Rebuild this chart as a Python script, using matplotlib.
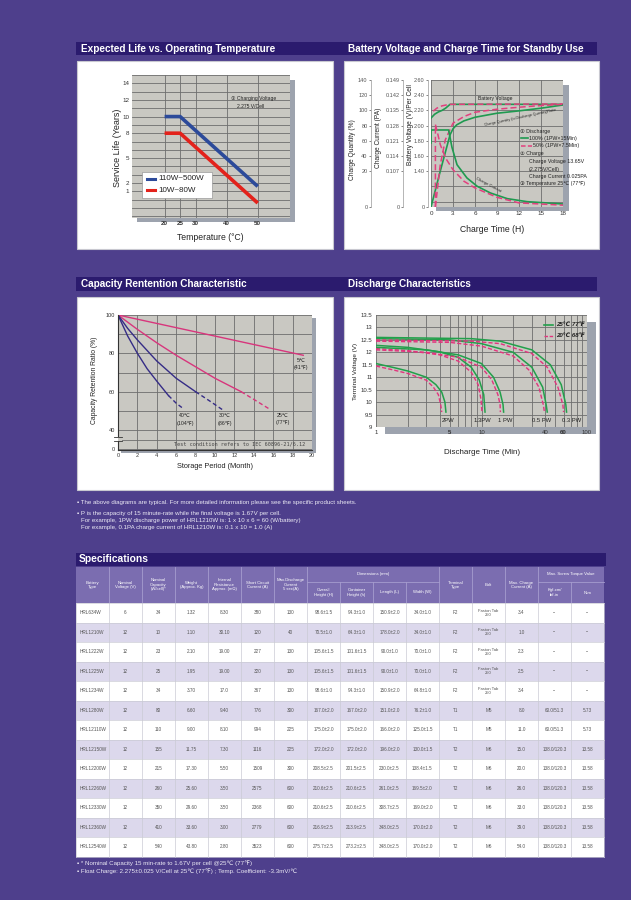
import numpy as np
import matplotlib
matplotlib.use('Agg')
import matplotlib.pyplot as plt
from matplotlib.patches import Rectangle
from matplotlib.lines import Line2D
from matplotlib.ticker import FixedLocator, NullFormatter

plt.rcParams['font.family'] = ['Liberation Sans', 'DejaVu Sans', 'Noto Sans CJK SC']

# ---------------- data ----------------
# Chart 1: expected life
temp_pts = [20, 25, 50]
life_110_500 = [10, 10, 1.6]
life_10_80 = [8, 8, -0.4]
temp_ticks = [20, 25, 30, 40, 50]
life_ticks = [14, 12, 10, 8, 5, 2, 1]

# Chart 2: charge characteristics
hours_v100 = [0, 0.5, 1, 1.5, 2, 2.6, 18]
volt_100 = [2.10, 2.15, 2.18, 2.20, 2.23, 2.28, 2.28]
hours_v50 = [0.3, 0.8, 1.5, 2.5, 18]
volt_50 = [2.19, 2.23, 2.26, 2.28, 2.285]
hours_q100 = [0, 1.26, 2.6, 3, 3.5, 4.5, 6, 9, 12, 15, 18]
qty_100 = [0, 20, 68, 75.8, 81, 86.3, 91, 96.3, 99.4, 102.9, 107.2]
hours_q50 = [0.6, 1.15, 1.27, 1.95, 3, 4.5, 6, 9, 12, 15, 18]
qty_50 = [0, 20, 28.6, 61.4, 83.2, 92, 97.6, 101.6, 104.2, 106.4, 108.1]
hours_c100 = [0, 0, 2.4, 2.86, 3.55, 4.9, 6.3, 8.1, 10.4, 13.1, 18]
curr_100 = [0.120, 0.126, 0.126, 0.118, 0.110, 0.087, 0.062, 0.042, 0.025, 0.016, 0.009]
hours_c50 = [0.6, 0.6, 0.9, 1.27, 2, 3, 4.5, 6, 9, 12, 18]
curr_50 = [0, 0.1285, 0.1245, 0.1192, 0.113, 0.1077, 0.077, 0.057, 0.029, 0.0123, 0.0055]
hour_ticks = [0, 3, 6, 9, 12, 15, 18]
volt_ticks = [2.60, 2.40, 2.20, 2.00, 1.80, 1.60, 1.40]
curr_ticks = [0.149, 0.142, 0.135, 0.128, 0.121, 0.114, 0.107, 0]
qty_ticks = [140, 120, 100, 80, 60, 40, 20, 0]

# Chart 3: capacity retention
m5 = [0, 19.1]
r5 = [100, 79]
m25 = [0, 2, 4, 6, 8, 10, 12.7]
r25 = [100, 92.5, 85.5, 79, 73, 67, 60]
m25d = [12.7, 14, 15.6]
r25d = [60, 56, 51]
m30 = [0, 1, 2, 3, 4, 5, 6, 7, 8]
r30 = [100, 93, 87, 81.5, 76, 71.5, 67, 63.5, 60]
m30d = [8, 9.5, 10.8]
r30d = [60, 55, 50.5]
m40 = [0, 1, 2, 3, 4, 5.2]
r40 = [100, 89, 80, 72, 65.5, 58]
m40d = [5.2, 6, 6.7]
r40d = [58, 54, 51.3]
month_ticks = list(range(0, 21, 2))
ret_ticks = [100, 80, 60, 40]

# Chart 4: discharge characteristics (min, V) ; g = 25C, p = 20C
t2g = [1, 1.5, 2, 3, 3.7, 4.2, 4.5, 4.6]
v2g = [11.55, 11.38, 11.25, 11.0, 10.7, 10.4, 10.0, 9.6]
t2p = [1, 1.5, 2, 3, 3.5, 3.9, 4.1, 4.2]
v2p = [11.45, 11.28, 11.15, 10.88, 10.6, 10.3, 9.9, 9.6]
t13g = [1, 2, 4, 6, 8, 9.5, 10.5, 10.8]
v13g = [12.28, 12.2, 12.02, 11.8, 11.4, 10.9, 10.3, 9.6]
t13p = [1, 2, 4, 6, 8, 9.3, 9.9, 10.1]
v13p = [12.15, 12.07, 11.9, 11.65, 11.2, 10.7, 10.1, 9.6]
t1g = [1, 3, 6, 10, 13, 15, 16, 16.2]
v1g = [12.2, 12.1, 11.9, 11.55, 11.0, 10.4, 9.9, 9.6]
t1p = [1, 3, 6, 10, 12.5, 14.3, 15, 15.1]
v1p = [12.1, 12.0, 11.8, 11.4, 10.9, 10.3, 9.9, 9.6]
t05g = [1, 5, 10, 20, 30, 38, 41, 42]
v05g = [12.55, 12.5, 12.35, 12.0, 11.4, 10.6, 9.9, 9.6]
t05p = [1, 5, 10, 20, 28, 35, 38.5, 39.5]
v05p = [12.45, 12.4, 12.25, 11.85, 11.3, 10.6, 9.9, 9.6]
t03g = [1, 8, 15, 30, 45, 57, 63, 64]
v03g = [12.6, 12.55, 12.45, 12.1, 11.5, 10.7, 9.9, 9.6]
t03p = [1, 8, 15, 30, 42, 53, 59, 60]
v03p = [12.5, 12.45, 12.35, 11.95, 11.4, 10.6, 9.9, 9.6]
time_ticks = [1, 5, 10, 40, 60, 100]
tv_ticks = [13.5, 13, 12.5, 12, 11.5, 11, 10.5, 10, 9.5, 9]

# Specifications table
battery_types = ['HRL634W', 'HRL1210W', 'HRL1222W', 'HRL1225W', 'HRL1234W', 'HRL1280W', 'HRL12110W',
                 'HRL12150W', 'HRL12200W', 'HRL12260W', 'HRL12330W', 'HRL12360W', 'HRL12540W']
nominal_voltage = ['6'] + ['12'] * 12
nominal_capacity = ['34', '10', '23', '25', '34', '80', '110', '155', '215', '260', '350', '410', '540']
weight = ['1.32', '1.10', '2.10', '1.95', '3.70', '6.60', '9.00', '11.75', '17.30', '25.60', '29.60', '33.60', '43.80']
internal_res = ['8.30', '30.10', '19.00', '19.00', '17.0', '9.40', '8.10', '7.30', '5.50', '3.50', '3.50', '3.00', '2.80']
short_circuit = ['380', '120', '227', '320', '367', '776', '994', '1116', '1509', '2575', '2368', '2779', '3523']
max_discharge = ['130', '40', '130', '130', '130', '300', '225', '225', '300', '600', '600', '600', '600']
overall_h = ['98.6±1.5', '70.5±1.0', '105.6±1.5', '105.6±1.5', '98.6±1.0', '167.0±2.0', '175.0±2.0',
             '172.0±2.0', '208.5±2.5', '210.6±2.5', '210.6±2.5', '216.9±2.5', '275.7±2.5']
container_h = ['94.3±1.0', '64.3±1.0', '101.6±1.5', '101.6±1.5', '94.3±1.0', '167.0±2.0', '175.0±2.0',
               '172.0±2.0', '201.5±2.5', '210.6±2.5', '210.6±2.5', '213.9±2.5', '273.2±2.5']
length = ['150.9±2.0', '178.0±2.0', '90.0±1.0', '90.0±1.0', '150.9±2.0', '151.0±2.0', '166.0±2.0',
          '196.0±2.0', '230.0±2.5', '261.0±2.5', '308.7±2.5', '348.0±2.5', '348.0±2.5']
width = ['34.0±1.0', '34.0±1.0', '70.0±1.0', '70.0±1.0', '64.8±1.0', '76.2±1.0', '125.0±1.5',
         '130.0±1.5', '138.4±1.5', '169.5±2.0', '169.0±2.0', '170.0±2.0', '170.0±2.0']
terminal = ['F2'] * 5 + ['T1', 'T1'] + ['T2'] * 6
bolt = ['Faston Tab\n250'] * 5 + ['M5', 'M5'] + ['M6'] * 6
max_charge = ['3.4', '1.0', '2.3', '2.5', '3.4', '8.0', '11.0', '15.0', '20.0', '26.0', '33.0', '39.0', '54.0']
torque_kgf = ['--'] * 5 + ['60.0/51.3'] * 2 + ['138.0/120.3'] * 6
torque_nm = ['--'] * 5 + ['5.73'] * 2 + ['13.58'] * 6
columns = [battery_types, nominal_voltage, nominal_capacity, weight, internal_res, short_circuit,
           max_discharge, overall_h, container_h, length, width, terminal, bolt, max_charge,
           torque_kgf, torque_nm]
col_headers = ['Battery\nType', 'Nominal\nVoltage (V)', 'Nominal\nCapacity\n(W/cell)*', 'Weight\n(Approx. Kg)',
               'Internal\nResistance\nApprox. (mΩ)', 'Short Circuit\nCurrent (A)', 'Max.Discharge\nCurrent\n5 sec(A)',
               'Overall\nHeight (H)', 'Container\nHeight (h)', 'Length (L)', 'Width (W)', 'Terminal\nType',
               'Bolt', 'Max. Charge\nCurrent (A)', 'Kgf-cm/\nlbf-in', 'N-m']

# ---------------- page ----------------
W, H = 631, 900
BG = '#4E3F8C'
BAR = '#2B1B6E'
PLOT_BG = '#C9C8C2'
GRID = '#6E6E6E'
SHADOW = '#9DA3AE'
fig = plt.figure(figsize=(W / 100, H / 100), dpi=100)
fig.patch.set_facecolor(BG)
bg = fig.add_axes([0, 0, 1, 1], zorder=0)
bg.set_xlim(0, W)
bg.set_ylim(H, 0)
bg.axis('off')


def fr(x0, y0, x1, y1):
    return [x0 / W, 1 - y1 / H, (x1 - x0) / W, (y1 - y0) / H]


def ft(x, y, s, **kw):
    return fig.text(x / W, 1 - y / H, s, **kw)


def rect(x0, y0, x1, y1, **kw):
    bg.add_patch(Rectangle((x0, y0), x1 - x0, y1 - y0, **kw))


def fline(xs, ys, **kw):
    fig.add_artist(Line2D([x / W for x in xs], [1 - y / H for y in ys], transform=fig.transFigure, **kw))


def frect(x0, y0, x1, y1, **kw):
    fig.add_artist(Rectangle((x0 / W, 1 - y1 / H), (x1 - x0) / W, (y1 - y0) / H,
                             transform=fig.transFigure, **kw))


# section bars & panels
rect(76, 42, 597, 55, fc=BAR, ec='none')
rect(76, 277, 597, 291, fc=BAR, ec='none')
TK = dict(color='white', fontsize=7.2, fontweight='bold', va='center')
ft(81, 48.5, 'Expected Life vs. Operating Temperature', **TK)
ft(348, 48.5, 'Battery Voltage and Charge Time for Standby Use', **TK)
ft(81, 284, 'Capacity Rentention Characteristic', **TK)
ft(348, 284, 'Discharge Characteristics', **TK)
for (x0, y0, x1, y1) in [(77, 61, 333, 249), (344, 61, 599, 249), (77, 297, 333, 490), (344, 297, 599, 490)]:
    rect(x0, y0, x1, y1, fc='white', ec='#C8C8D0', lw=0.8)

# ---------------- chart 1 ----------------
rect(137, 80, 295, 222, fc=SHADOW, ec='none')
ax1 = fig.add_axes(fr(132, 75, 290, 218), zorder=1)
ax1.set_facecolor(PLOT_BG)
ax1.set_xlim(9.5, 60.4)
ax1.set_ylim(-2.2, 15)
ax1.set_xticks(temp_ticks)
ax1.set_xticklabels([str(t) for t in temp_ticks], fontweight='bold')
ax1.set_yticks(life_ticks)
ax1.set_yticklabels([str(t) for t in life_ticks])
ax1.yaxis.set_minor_locator(FixedLocator(np.arange(-2, 16, 1)))
ax1.yaxis.remove_overlapping_locs = False
ax1.tick_params(which='both', length=0, labelsize=4.5, colors='#333333', pad=2)
ax1.grid(True, which='minor', axis='y', color=GRID, lw=0.6)
ax1.grid(True, which='major', axis='x', color=GRID, lw=0.6)
for s in ax1.spines.values():
    s.set_visible(False)
ax1.plot(temp_pts, life_110_500, color='#2C4A9A', lw=2.6, solid_capstyle='butt')
ax1.plot(temp_pts, life_10_80, color='#E3221B', lw=2.6, solid_capstyle='butt')
ft(117, 148, 'Service Life (Years)', rotation=90, ha='center', va='center', fontsize=6.5, color='#222222')
ft(210, 238, 'Temperature (°C)', ha='center', va='center', fontsize=6.2, color='#222222')
frect(142, 172, 212, 198, fc='white', ec='#888888', lw=0.4, zorder=4)
fline([147, 155], [179, 179], color='#2C4A9A', lw=2.2, zorder=5)
fline([147, 155], [190, 190], color='#E3221B', lw=2.2, zorder=5)
ft(158, 179, '110W~500W', fontsize=5.8, va='center', color='#222222', zorder=5)
ft(158, 190, '10W~80W', fontsize=5.8, va='center', color='#222222', zorder=5)
ft(231, 98.5, '① Charging Voltage', fontsize=3.6, va='center', color='#222222')
ft(237, 106.5, '2.275 V/Cell', fontsize=3.6, va='center', color='#222222')

# ---------------- chart 2 ----------------


def q2v(q):
    q = np.asarray(q, float)
    return np.where(q >= 20, 1.2 + 0.01 * q, 0.93 + q * (0.47 / 20))


def c2v(c):
    c = np.asarray(c, float)
    return np.where(c >= 0.107, 1.4 + (c - 0.107) / 0.007 * 0.2, 0.93 + c * (0.47 / 0.107))


rect(436, 85, 569, 211, fc=SHADOW, ec='none')
ax2 = fig.add_axes(fr(431, 80, 563, 207), zorder=1)
ax2.set_facecolor(PLOT_BG)
ax2.set_xlim(0, 18)
ax2.set_ylim(0.93, 2.6)
ax2.set_xticks(hour_ticks)
ax2.set_yticks(volt_ticks + [0.93])
ax2.set_yticklabels(['%.2f' % v for v in volt_ticks] + ['0'])
ax2.yaxis.set_minor_locator(FixedLocator([1.0, 1.2]))
ax2.tick_params(axis='x', length=0, labelsize=4.5, colors='#333333', pad=3)
ax2.tick_params(axis='y', which='major', length=1.5, width=0.5, labelsize=4, colors='#555555', pad=1)
ax2.tick_params(axis='y', which='minor', length=0)
ax2.grid(True, which='both', color=GRID, lw=0.6)
for s in ['top', 'right', 'bottom']:
    ax2.spines[s].set_visible(False)
ax2.spines['left'].set_position(('outward', 2))
ax2.spines['left'].set_color('#AAAAAA')
ax2.spines['left'].set_linewidth(0.6)
for off, ticks, labels in [(20.2, c2v(curr_ticks), ['%.3f' % c if c else '0' for c in curr_ticks]),
                           (43.2, q2v(qty_ticks), [str(q) for q in qty_ticks])]:
    axt = ax2.twinx()
    axt.set_zorder(1)
    axt.set_ylim(0.93, 2.6)
    axt.yaxis.tick_left()
    for s in ['top', 'right', 'bottom']:
        axt.spines[s].set_visible(False)
    axt.spines['left'].set_visible(True)
    axt.spines['left'].set_position(('outward', off))
    axt.spines['left'].set_color('#AAAAAA')
    axt.spines['left'].set_linewidth(0.6)
    axt.set_yticks(ticks)
    axt.set_yticklabels(labels)
    axt.tick_params(axis='y', length=1.5, width=0.5, labelsize=4, colors='#555555', pad=1)
GREEN2 = '#1F9A50'
PINK2 = '#E2407E'
ax2.plot(hours_v100, volt_100, color=GREEN2, lw=1.2)
ax2.plot(hours_v50, volt_50, color=PINK2, lw=1.1, ls=(0, (4, 2)))
ax2.plot(hours_q100, q2v(qty_100), color=GREEN2, lw=1.2)
ax2.plot(hours_q50, q2v(qty_50), color=PINK2, lw=1.1, ls=(0, (4, 2)))
ax2.plot(hours_c100, c2v(curr_100), color=GREEN2, lw=1.2)
ax2.plot(hours_c50, c2v(curr_50), color=PINK2, lw=1.1, ls=(0, (4, 2)))
ft(352, 150, 'Charge Quantity (%)', rotation=90, ha='center', va='center', fontsize=4.8, color='#222222')
ft(378, 138, 'Charge Current (PA)', rotation=90, ha='center', va='center', fontsize=4.8, color='#222222')
ft(410, 125, 'Battery Voltage (V)/Per Cell', rotation=90, ha='center', va='center', fontsize=4.8, color='#222222')
ft(492, 229, 'Charge Time (H)', ha='center', va='center', fontsize=6.2, color='#222222')
ft(478, 98.5, 'Battery Voltage', fontsize=3.6, va='center', color='#222222')
ft(520, 117.5, 'Charge Quantity (to Discharge Quantity)Ratio', fontsize=2.6, ha='center', va='center',
   rotation=12, color='#222222')
ft(488, 185, 'Charge Current', fontsize=3.0, ha='center', va='center', rotation=-28, color='#222222')
LK = dict(fontsize=3.8, va='center', color='#222222')
ft(520, 131.7, '① Discharge', **LK)
fline([521, 528], [138.3, 138.3], color=GREEN2, lw=1.2)
ft(529, 138.3, '100% (1PW×15Min)', **LK)
fline([521, 532], [145.7, 145.7], color=PINK2, lw=1.1, ls=(0, (3, 1.5)))
ft(533, 145.7, '50% (1PW×7.5Min)', **LK)
ft(520, 154, '② Charge', **LK)
ft(529, 161.7, 'Charge Voltage 13.65V', **LK)
ft(529, 169, '(2.275V/Cell)', **LK)
ft(529, 176.7, 'Charge Current 0.025PA', **LK)
ft(520, 183.3, '③ Temperature 25℃ (77℉)', **LK)

# ---------------- chart 3 ----------------
rect(121, 318, 316, 453, fc=SHADOW, ec='none')
ax3 = fig.add_axes(fr(118, 315, 312, 450), zorder=1)
ax3.set_facecolor(PLOT_BG)
ax3.set_xlim(0, 20)
ax3.set_ylim(29.6, 100)
ax3.set_xticks(month_ticks)
ax3.set_yticks(ret_ticks + [30.2])
ax3.set_yticklabels([str(r) for r in ret_ticks] + ['0'])
ax3.yaxis.set_minor_locator(FixedLocator([90, 70, 50, 35]))
ax3.tick_params(which='both', length=0, labelsize=4, colors='#333333', pad=2)
ax3.grid(True, which='both', color=GRID, lw=0.6)
for s in ['top', 'right']:
    ax3.spines[s].set_visible(False)
for s in ['left', 'bottom']:
    ax3.spines[s].set_color('#333333')
    ax3.spines[s].set_linewidth(0.8)
PINK3 = '#D8357C'
NAVY3 = '#352C86'
ax3.plot(m5, r5, color=PINK3, lw=1.0)
ax3.plot(m25, r25, color=PINK3, lw=1.0)
ax3.plot(m25d, r25d, color=PINK3, lw=1.0, ls=(0, (3, 2)))
ax3.plot(m30, r30, color=NAVY3, lw=1.0)
ax3.plot(m30d, r30d, color=NAVY3, lw=1.0, ls=(0, (3, 2)))
ax3.plot(m40, r40, color=NAVY3, lw=1.0)
ax3.plot(m40d, r40d, color=NAVY3, lw=1.0, ls=(0, (3, 2)))
frect(115, 436.5, 121.5, 440.5, fc=PLOT_BG, ec='none', zorder=4)
frect(113, 436.5, 117.5, 440.5, fc='white', ec='none', zorder=4)
fline([114, 121.5], [436.5, 436.5], color='#333333', lw=0.6, zorder=5)
fline([114, 121.5], [440.5, 440.5], color='#333333', lw=0.6, zorder=5)
ft(95, 380, 'Capacity Retention Ratio (%)', rotation=90, ha='center', va='center', fontsize=4.9, color='#222222')
ft(215, 466, 'Storage Period (Month)', ha='center', va='center', fontsize=5.3, color='#222222')
CK = dict(fontsize=3.8, ha='center', va='center', color='#222222')
ft(301, 361, '5℃', **CK)
ft(301, 367.5, '(41℉)', **CK)
ft(283, 415.7, '25℃', **CK)
ft(283, 422.7, '(77℉)', **CK)
ft(225, 415.7, '30℃', **CK)
ft(225, 423.3, '(86℉)', **CK)
ft(185, 415.7, '40℃', **CK)
ft(185, 424, '(104℉)', **CK)
ft(174, 444, 'Test condition refers to IEC 60896-21/6.12', family='DejaVu Sans Mono', fontsize=3.7,
   va='center', color='#444444')

# ---------------- chart 4 ----------------
rect(385, 322, 596, 434, fc=SHADOW, ec='none')
ax4 = fig.add_axes(fr(376, 315, 587, 427), zorder=1)
ax4.set_facecolor(PLOT_BG)
ax4.set_xscale('log')
ax4.set_xlim(1, 100)
ax4.set_ylim(9, 13.5)
ax4.set_xticks(time_ticks)
ax4.set_xticklabels([str(t) for t in time_ticks])
for lab in ax4.get_xticklabels():
    if lab.get_text() in ('5', '60'):
        lab.set_fontweight('bold')
ax4.xaxis.set_minor_locator(FixedLocator([2, 3, 4, 6, 7, 8, 9, 20, 30, 50, 70, 80, 90]))
ax4.xaxis.set_minor_formatter(NullFormatter())
ax4.set_yticks(tv_ticks)
ax4.set_yticklabels(['%g' % v for v in tv_ticks])
ax4.tick_params(which='both', length=0, labelsize=4.3, colors='#333333', pad=2.5)
ax4.grid(True, which='both', color=GRID, lw=0.6)
for s in ax4.spines.values():
    s.set_visible(False)
GREEN4 = '#22A04B'
PINK4 = '#E2347D'
for tg, vg, tp, vp in [(t2g, v2g, t2p, v2p), (t13g, v13g, t13p, v13p), (t1g, v1g, t1p, v1p),
                       (t05g, v05g, t05p, v05p), (t03g, v03g, t03p, v03p)]:
    ax4.plot(tp, vp, color=PINK4, lw=1.0, ls=(0, (3, 1.5)))
    ax4.plot(tg, vg, color=GREEN4, lw=1.1)
DK = dict(fontsize=4.2, ha='center', va='center', color='#222222')
ft(448, 420, '2PW', **DK)
ft(482, 420, '1.3PW', **DK)
ft(505, 420, '1 PW', **DK)
ft(542, 420, '0.5 PW', **DK)
ft(572, 420, '0.3 PW', **DK)
fline([544, 553], [325, 325], color=GREEN4, lw=1.2, zorder=5)
fline([544, 553], [335.7, 335.7], color=PINK4, lw=1.0, ls=(0, (2.5, 1.2)), zorder=5)
ft(556, 325, '25℃ 77℉', fontsize=4.4, fontstyle='italic', fontweight='bold', va='center', color='#222222')
ft(556, 335.7, '20℃ 68℉', fontsize=4.4, fontstyle='italic', fontweight='bold', va='center', color='#222222')
ft(355, 371, 'Terminal Voltage (V)', rotation=90, ha='center', va='center', fontsize=4.6, color='#222222')
ft(482, 453, 'Discharge Time (Min)', ha='center', va='center', fontsize=5.8, color='#222222')

# ---------------- notes ----------------
NK = dict(fontsize=4.4, va='center', color='#ECEAF5')
ft(77, 502.3, '▪ The above diagrams are typical. For more detailed information please see the specific product sheets.', **NK)
ft(77, 513.3, '▪ P is the capacity of 15 minute-rate while the final voltage is 1.67V per cell.', **NK)
ft(81, 520.5, 'For example, 1PW discharge power of HRL1210W is: 1 x 10 x 6 = 60 (W/battery)', **NK)
ft(81, 527.8, 'For example, 0.1PA charge current of HRL1210W is: 0.1 x 10 = 1.0 (A)', **NK)

# ---------------- specifications table ----------------
rect(76, 553, 606, 566, fc=BAR, ec='none')
ft(79, 559.5, 'Specifications', color='white', fontsize=7.4, fontweight='bold', va='center')
col_x = np.linspace(76, 604, 17)
hdr_top, hdr_mid, hdr_bot = 566.5, 582, 603
row_h = 19.5
HDR = '#7B6DB0'
HLINE = '#A69CCF'
rect(col_x[0], hdr_top, col_x[-1], hdr_bot, fc=HDR, ec='none')
for i, xb in enumerate(col_x[1:-1], start=1):
    y0 = hdr_mid if i in (8, 9, 10, 15) else hdr_top
    bg.plot([xb, xb], [y0, hdr_bot], color=HLINE, lw=0.6)
bg.plot([col_x[7], col_x[11]], [hdr_mid, hdr_mid], color=HLINE, lw=0.6)
bg.plot([col_x[14], col_x[16]], [hdr_mid, hdr_mid], color=HLINE, lw=0.6)
HK = dict(fontsize=3.1, ha='center', va='center', color='white', linespacing=1.15)
bg.text((col_x[7] + col_x[11]) / 2, (hdr_top + hdr_mid) / 2, 'Dimensions (mm)', **HK)
bg.text((col_x[14] + col_x[16]) / 2, (hdr_top + hdr_mid) / 2, 'Max. Screw Torque Value', **HK)
for i, h in enumerate(col_headers):
    xc = (col_x[i] + col_x[i + 1]) / 2
    yc = (hdr_mid + hdr_bot) / 2 if (7 <= i <= 10 or i >= 14) else (hdr_top + hdr_bot) / 2
    bg.text(xc, yc, h, **HK)
n_rows = len(battery_types)
for r in range(n_rows):
    y0 = hdr_bot + r * row_h
    rect(col_x[0], y0, col_x[-1], y0 + row_h, fc='white' if r % 2 == 0 else '#DCD8EC', ec='none')
for r in range(n_rows + 1):
    y = hdr_bot + r * row_h
    bg.plot([col_x[0], col_x[-1]], [y, y], color='#CACAD4', lw=0.5)
for xb in col_x:
    bg.plot([xb, xb], [hdr_bot, hdr_bot + n_rows * row_h], color='#CACAD4', lw=0.5)
for c, vals in enumerate(columns):
    for r, v in enumerate(vals):
        yc = hdr_bot + (r + 0.5) * row_h
        if c == 0:
            bg.text(col_x[0] + 4, yc, v, fontsize=3.4, ha='left', va='center', color='#555555')
        else:
            bg.text((col_x[c] + col_x[c + 1]) / 2, yc, v, fontsize=3.3 if '\n' not in v else 3.0,
                    ha='center', va='center', color='#555555', linespacing=1.1)

ft(77, 862.7, '▪ * Nominal Capacity 15 min-rate to 1.67V per cell @25℃ (77℉)', **NK)
ft(77, 871, '▪ Float Charge: 2.275±0.025 V/Cell at 25℃ (77℉) ; Temp. Coefficient: -3.3mV/℃', **NK)

fig.savefig('out.png', dpi=100, facecolor=BG)
